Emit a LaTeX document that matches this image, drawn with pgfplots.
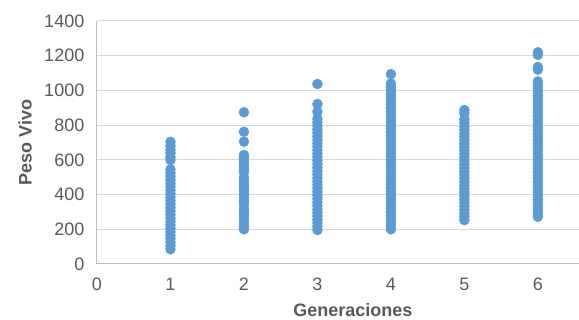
\documentclass[border=0pt]{standalone}
\usepackage{pgfplots}
\pgfplotsset{compat=1.18}
\usepackage{fontspec}
\setmainfont{Liberation Sans}
\definecolor{ptblue}{HTML}{5B9BD5}
\definecolor{txtgray}{HTML}{595959}
\definecolor{gridgray}{HTML}{D9D9D9}
\definecolor{axgray}{HTML}{BFBFBF}
\begin{document}
\begin{tikzpicture}
\path[use as bounding box] (-72.75pt,-42pt) rectangle (361.5pt,198pt);
\begin{axis}[
  at={(0,0)}, anchor=south west,
  scale only axis, width=361.5pt, height=182.25pt,
  xmin=0, xmax=6.56, ymin=0, ymax=1400,
  xtick={0,1,2,3,4,5,6}, ytick={0,200,400,600,800,1000,1200,1400},
  axis x line*=bottom, axis y line*=left,
  axis line style={axgray, line width=0.75pt, -},
  ymajorgrids, grid style={gridgray, line width=0.75pt},
  major tick length=0pt,
  font=\fontsize{13.5}{16}\selectfont,
  tick label style={txtgray},
  /pgf/number format/assume math mode=true,
  /pgf/number format/1000 sep={},
  yticklabel style={xshift=-6pt},
  xticklabel style={yshift=-7pt},
  xlabel={\textbf{Generaciones}}, ylabel={\textbf{Peso Vivo}},
  xlabel style={txtgray, at={(axis description cs:0.531,-0.188)}, anchor=center},
  ylabel style={txtgray, at={(axis description cs:-0.149,0.5)}, anchor=center},
  clip=false,
]
\addplot[only marks, mark=*, mark size=3.7pt, mark options={fill=ptblue, draw=ptblue}] coordinates {
(1,85) (1,105) (1,125) (1,145) (1,165) (1,185) (1,205) (1,225) (1,245) (1,265) (1,285) (1,305) (1,325) (1,345) (1,365) (1,385) (1,405) (1,425) (1,445) (1,465) (1,485) (1,505) (1,525) (1,545) (1,599) (1,616) (1,640) (1,657) (1,680) (1,704)
(2,200) (2,220) (2,240) (2,260) (2,280) (2,300) (2,320) (2,345) (2,360) (2,380) (2,400) (2,420) (2,440) (2,460) (2,480) (2,500) (2,530) (2,545) (2,560) (2,580) (2,600) (2,615) (2,628) (2,705) (2,762) (2,874)
(3,196) (3,216) (3,236) (3,256) (3,276) (3,296) (3,316) (3,336) (3,356) (3,376) (3,396) (3,416) (3,436) (3,456) (3,476) (3,496) (3,516) (3,536) (3,556) (3,576) (3,596) (3,616) (3,636) (3,656) (3,676) (3,696) (3,716) (3,736) (3,756) (3,776) (3,796) (3,816) (3,836) (3,877) (3,922) (3,1037)
(4,200) (4,220) (4,240) (4,260) (4,280) (4,300) (4,320) (4,340) (4,360) (4,380) (4,400) (4,420) (4,440) (4,460) (4,480) (4,500) (4,520) (4,540) (4,560) (4,580) (4,600) (4,620) (4,640) (4,660) (4,680) (4,700) (4,720) (4,740) (4,760) (4,780) (4,800) (4,820) (4,840) (4,860) (4,880) (4,900) (4,920) (4,940) (4,960) (4,980) (4,1000) (4,1020) (4,1040) (4,1094)
(5,253) (5,273) (5,293) (5,313) (5,333) (5,353) (5,373) (5,393) (5,413) (5,433) (5,453) (5,473) (5,493) (5,513) (5,533) (5,553) (5,573) (5,593) (5,613) (5,633) (5,653) (5,673) (5,693) (5,713) (5,733) (5,753) (5,773) (5,793) (5,813) (5,833) (5,868) (5,887)
(6,272) (6,292) (6,312) (6,332) (6,352) (6,372) (6,392) (6,412) (6,432) (6,452) (6,472) (6,492) (6,512) (6,532) (6,552) (6,572) (6,592) (6,612) (6,632) (6,652) (6,672) (6,692) (6,712) (6,732) (6,752) (6,772) (6,792) (6,812) (6,832) (6,852) (6,872) (6,892) (6,912) (6,932) (6,952) (6,972) (6,992) (6,1012) (6,1032) (6,1052) (6,1120) (6,1135) (6,1205) (6,1220)
};
\end{axis}
\end{tikzpicture}
\end{document}
